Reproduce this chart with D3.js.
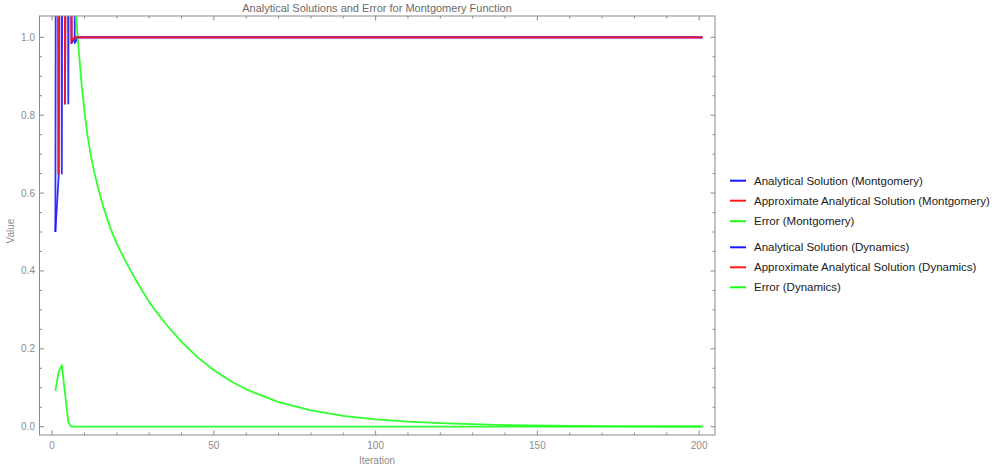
<!DOCTYPE html>
<html><head><meta charset="utf-8">
<script src="https://cdn.jsdelivr.net/npm/d3@7"></script>
<style>body{margin:0;background:#fff}svg text{font-family:"Liberation Sans",Arial,sans-serif}</style>
</head><body><svg id="c" width="995" height="470"></svg>
<script>
const title = "Analytical Solutions and Error for Montgomery Function";
const xLabel = "Iteration", yLabel = "Value";
const xTicks = [0, 50, 100, 150, 200];
const yTicks = [0.0, 0.2, 0.4, 0.6, 0.8, 1.0];
const yTickLabels = ["0.0", "0.2", "0.4", "0.6", "0.8", "1.0"];

// Montgomery series
const anMontIter = [1, 2, 3, 4, 5, 6, 7, 8, 201];
const anMontVal  = [0.5, 6.0, 0.65, 5.0, 0.83, 4.0, 0.985, 1.0, 1.0];
const apMontIter = [1, 2, 3, 4, 5, 6, 7, 201];
const apMontVal  = [4.0, 0.65, 5.0, 0.83, 4.0, 0.985, 1.0, 1.0];
const errMontIter = [1, 2, 3, 4, 5, 6, 7, 8, 9, 10, 11, 12, 13, 14, 15, 16, 18, 20, 23, 26, 30, 35, 40, 45, 50, 55, 60, 70, 80, 90, 100, 110, 120, 140, 160, 180, 201];
const errMontVal  = [2.2, 2.0, 1.8, 1.6, 1.45, 1.3, 1.10, 0.99, 0.89, 0.81, 0.745, 0.695, 0.655, 0.62, 0.59, 0.56, 0.51, 0.47, 0.42, 0.375, 0.32, 0.265, 0.218, 0.178, 0.145, 0.118, 0.096, 0.063, 0.042, 0.028, 0.019, 0.013, 0.009, 0.004, 0.002, 0.001, 0.0005];

// Dynamics series
const anDynIter = [1, 2, 3, 4, 5, 6, 7, 201];
const anDynVal  = [0.5, 0.64, 6.0, 0.83, 5.0, 0.985, 1.0, 1.0];
const apDynIter = [1, 2, 3, 4, 5, 6, 7, 201];
const apDynVal  = [4.0, 0.65, 5.0, 0.83, 4.0, 0.99, 1.0, 1.0];
const errDynIter = [1, 2, 3, 4, 5, 6, 7, 201];
const errDynVal  = [0.092, 0.14, 0.158, 0.085, 0.012, 0.0, 0.0, 0.0];

const seriesNames = ["Analytical Solution (Montgomery)", "Approximate Analytical Solution (Montgomery)", "Error (Montgomery)",
                     "Analytical Solution (Dynamics)", "Approximate Analytical Solution (Dynamics)", "Error (Dynamics)"];
const seriesColors = ["#1a1aff", "#ff1a1a", "#1aff1a", "#1a1aff", "#ff1a1a", "#1aff1a"];

const series = [
  [anMontIter, anMontVal], [apMontIter, apMontVal], [errMontIter, errMontVal],
  [anDynIter, anDynVal], [apDynIter, apDynVal], [errDynIter, errDynVal]
].map(([it, v], i) => ({name: seriesNames[i], color: seriesColors[i], pts: it.map((n, j) => [n, v[j]])}));

const svg = d3.select("#c");
const L = 39.5, R = 715, T = 16, B = 435;
const x = d3.scaleLinear().domain([-3.9, 204.9]).range([L, R]);
const y = d3.scaleLinear().domain([-0.0213, 1.0547]).range([B, T]);
const gray = "#8a8a8a", tickCol = "#8a8a8a", labCol = "#8c8c8c";

// title
svg.append("text").attr("x", 377).attr("y", 12).attr("text-anchor", "middle")
  .attr("font-size", 11).attr("fill", "#6b6b6b").text(title);

// clip
svg.append("clipPath").attr("id", "clip").append("rect")
  .attr("x", L).attr("y", T).attr("width", R - L).attr("height", B - T);

// lines
const line = d3.line().x(d => x(d[0])).y(d => y(d[1]));
const gL = svg.append("g").attr("clip-path", "url(#clip)");
series.forEach(s => {
  gL.append("path").attr("d", line(s.pts)).attr("fill", "none")
    .attr("stroke", s.color).attr("stroke-width", 1.8).attr("stroke-opacity", 0.9)
    .attr("stroke-linejoin", "round");
});

// frame
svg.append("rect").attr("x", L).attr("y", T).attr("width", R - L).attr("height", B - T)
  .attr("fill", "none").attr("stroke", gray).attr("stroke-width", 1);

// ticks
const xMinor = d3.range(0, 201, 10).filter(v => !xTicks.includes(v));
const yMinor = d3.range(0, 1.0001, 0.05).map(v => +v.toFixed(2)).filter(v => !yTicks.some(t => Math.abs(t - v) < 1e-6));
const tg = svg.append("g").attr("stroke", tickCol).attr("stroke-width", 1);
function xt(v, len) {
  tg.append("line").attr("x1", x(v)).attr("x2", x(v)).attr("y1", B).attr("y2", B - len);
  tg.append("line").attr("x1", x(v)).attr("x2", x(v)).attr("y1", T).attr("y2", T + len);
}
function yt(v, len) {
  tg.append("line").attr("y1", y(v)).attr("y2", y(v)).attr("x1", L).attr("x2", L + len);
  tg.append("line").attr("y1", y(v)).attr("y2", y(v)).attr("x1", R).attr("x2", R - len);
}
xTicks.forEach(v => xt(v, 4.5)); xMinor.forEach(v => xt(v, 2.5));
yTicks.forEach(v => yt(v, 4.5)); yMinor.forEach(v => yt(v, 2.5));

// tick labels
xTicks.forEach(v => svg.append("text").attr("x", x(v)).attr("y", 449).attr("text-anchor", "middle")
  .attr("font-size", 10).attr("fill", labCol).text(v));
yTicks.forEach((v, i) => svg.append("text").attr("x", 35).attr("y", y(v) + 3.5).attr("text-anchor", "end")
  .attr("font-size", 10).attr("fill", labCol).text(yTickLabels[i]));

// axis labels
svg.append("text").attr("x", 377).attr("y", 464).attr("text-anchor", "middle")
  .attr("font-size", 10).attr("fill", labCol).text(xLabel);
svg.append("text").attr("transform", "translate(14,231) rotate(-90)").attr("text-anchor", "middle")
  .attr("font-size", 10).attr("fill", labCol).text(yLabel);

// legend
const legY = [180.7, 200.7, 221.2, 247.3, 267.3, 287.3];
series.forEach((s, i) => {
  svg.append("line").attr("x1", 730).attr("x2", 746).attr("y1", legY[i]).attr("y2", legY[i])
    .attr("stroke", s.color).attr("stroke-width", 2);
  svg.append("text").attr("x", 754).attr("y", legY[i] + 4).attr("font-size", 11.5)
    .attr("fill", "#1a1a1a").text(s.name);
});
</script></body></html>
